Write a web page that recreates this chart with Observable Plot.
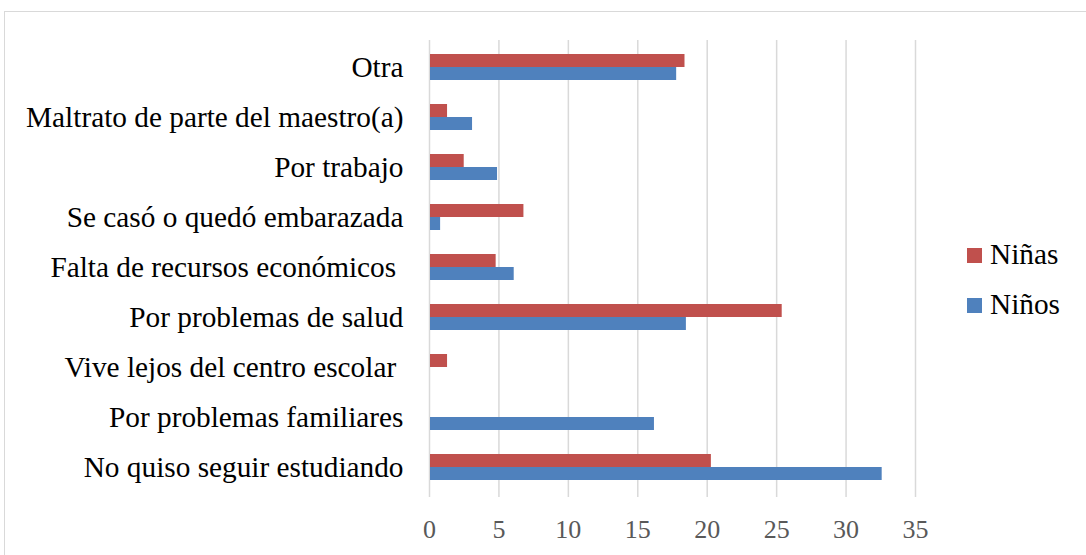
<!DOCTYPE html>
<html><head><meta charset="utf-8">
<script src="https://cdn.jsdelivr.net/npm/d3@7"></script>
<script src="https://cdn.jsdelivr.net/npm/@observablehq/plot@0.6"></script>
<style>
body{margin:0;background:#fff;font-family:'Liberation Serif','Times New Roman',serif;font-size:26px;}
#wrap{position:relative;width:1086px;height:555px;overflow:hidden;font-family:'Liberation Serif','Times New Roman',serif;}
#frame{position:absolute;left:4px;top:11px;width:1200px;height:700px;border:1px solid #d9d9d9;box-sizing:border-box;}
#chart{position:absolute;left:0;top:0;}
#legend{position:absolute;left:967px;top:230px;font-size:26px;color:#000;z-index:2;}
.item{display:flex;align-items:center;height:50px;}
.sw{width:15px;height:15px;margin-right:8px;flex:none;}
.lt{display:inline-block;transform:scale(1.127);transform-origin:left center;white-space:pre;}
</style></head>
<body>
<div id="wrap"><div id="legend"></div><div id="frame"></div><div id="chart"></div></div>
<script>
const categories = ["Otra","Maltrato de parte del maestro(a)","Por trabajo","Se casó o quedó embarazada","Falta de recursos económicos ","Por problemas de salud","Vive lejos del centro escolar ","Por problemas familiares","No quiso seguir estudiando"];
const ninas = [18.4, 1.3, 2.5, 6.8, 4.8, 25.4, 1.3, 0, 20.3];
const ninos = [17.8, 3.1, 4.9, 0.8, 6.1, 18.5, 0, 16.2, 32.6];
const seriesNames = ["Niñas","Niños"];
const seriesColors = ["#C0504D","#4F81BD"];
const xTicks = [0,5,10,15,20,25,30,35];
const FONT = "'Liberation Serif','Times New Roman',serif";

// legend first, at 26px, so the serif face is resolved at a small size
const legend = document.getElementById("legend");
seriesNames.forEach((s,i)=>{
  const it = document.createElement("div"); it.className="item";
  const sw = document.createElement("div"); sw.className="sw"; sw.style.background=seriesColors[i];
  const t = document.createElement("span"); t.className="lt"; t.textContent=s;
  it.appendChild(sw); it.appendChild(t); legend.appendChild(it);
});

const dNinas = categories.map((c,i)=>({category:c, value:ninas[i], series:seriesNames[0]}));
const dNinos = categories.map((c,i)=>({category:c, value:ninos[i], series:seriesNames[1]}));

const chart = Plot.plot({
  width:1086, height:555,
  marginLeft:429, marginRight:171, marginTop:40, marginBottom:61,
  style:{background:"transparent", fontFamily:FONT},
  x:{domain:[0,35], label:null},
  y:{domain:categories, paddingInner:0.484, paddingOuter:0.242, label:null},
  marks:[
    Plot.ruleX(xTicks, {stroke:"#d9d9d9", strokeWidth:1.5}),
    Plot.barX(dNinas, {x:"value", y:"category", fill:seriesColors[0], insetBottom:13, insetLeft:1}),
    Plot.barX(dNinos, {x:"value", y:"category", fill:seriesColors[1], insetTop:13, insetLeft:1}),
    Plot.axisX({ticks:xTicks, tickSize:3, stroke:"#d9d9d9", strokeWidth:1.5, tickPadding:22, fontSize:26, fill:"#595959", label:null, tickFormat:d=>String(d)}),
    Plot.axisY({tickSize:0, tickPadding:26, fontSize:26, fill:"#000", label:null})
  ]
});

function scaleTexts(root, k){
  root.querySelectorAll("text").forEach(el=>{
    el.style.whiteSpace = "pre";
    let t = el.getAttribute("transform");
    if (!t) {
      const x = +(el.getAttribute("x")||0), y = +(el.getAttribute("y")||0);
      el.removeAttribute("x"); el.removeAttribute("y");
      t = `translate(${x},${y})`;
    }
    el.setAttribute("transform", t + ` scale(${k})`);
  });
}
chart.querySelectorAll('g[aria-label="y-axis tick label"]').forEach(g=>scaleTexts(g, 29.3/26));
document.getElementById("chart").appendChild(chart);
</script>
</body></html>
